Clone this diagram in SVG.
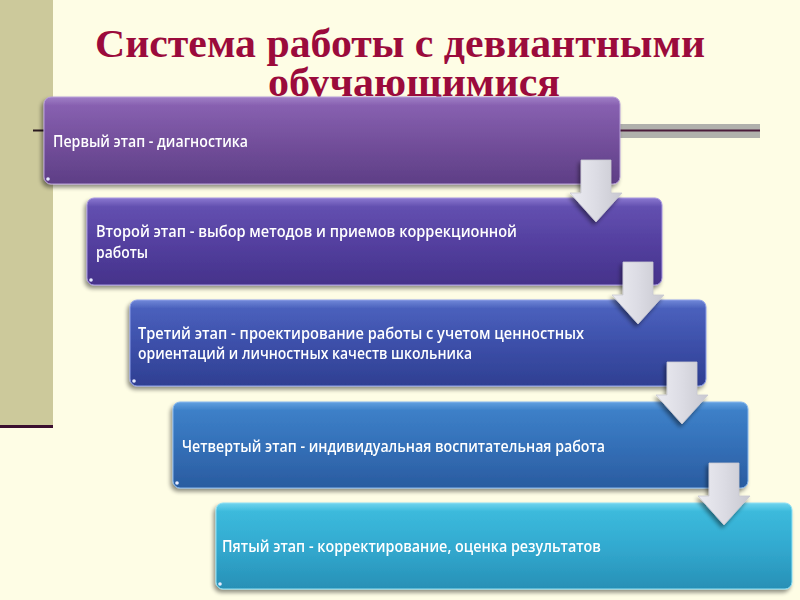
<svg xmlns="http://www.w3.org/2000/svg" width="800" height="600" viewBox="0 0 800 600">
<defs>
<style>
.title{font-family:"Liberation Serif","Times New Roman",serif;font-weight:bold;font-size:40px;fill:#9b0b3c}
.lbl{font-family:"Open Sans","Liberation Sans",Arial,sans-serif;font-weight:600;font-size:15.5px;fill:#ffffff}
.arrow{fill:url(#gArrow);stroke:#c8c8d0;stroke-width:0.8;filter:url(#sh)}
.dot{fill:#e8ecff}
</style>
<filter id="sh" x="-10%" y="-10%" width="125%" height="130%">
<feGaussianBlur in="SourceAlpha" stdDeviation="2"/>
<feOffset dx="-2" dy="3" result="b"/>
<feComponentTransfer><feFuncA type="linear" slope="0.45"/></feComponentTransfer>
<feMerge><feMergeNode/><feMergeNode in="SourceGraphic"/></feMerge>
</filter>
<linearGradient id="g1" x1="0" y1="0" x2="0" y2="1">
<stop offset="0" stop-color="#a07fc6"/><stop offset="0.1" stop-color="#8760b0"/><stop offset="0.5" stop-color="#74509c"/><stop offset="1" stop-color="#5e3e86"/>
</linearGradient>
<linearGradient id="g2" x1="0" y1="0" x2="0" y2="1">
<stop offset="0" stop-color="#8a78d0"/><stop offset="0.1" stop-color="#6350b0"/><stop offset="0.5" stop-color="#5440a0"/><stop offset="1" stop-color="#45328a"/>
</linearGradient>
<linearGradient id="g3" x1="0" y1="0" x2="0" y2="1">
<stop offset="0" stop-color="#7088d8"/><stop offset="0.1" stop-color="#4a60bc"/><stop offset="0.5" stop-color="#3d50aa"/><stop offset="1" stop-color="#2f3f92"/>
</linearGradient>
<linearGradient id="g4" x1="0" y1="0" x2="0" y2="1">
<stop offset="0" stop-color="#62a0e0"/><stop offset="0.1" stop-color="#3d80c8"/><stop offset="0.5" stop-color="#3470b8"/><stop offset="1" stop-color="#2a5ca0"/>
</linearGradient>
<linearGradient id="g5" x1="0" y1="0" x2="0" y2="1">
<stop offset="0" stop-color="#70d4ee"/><stop offset="0.1" stop-color="#3cbadc"/><stop offset="0.5" stop-color="#32aad0"/><stop offset="1" stop-color="#2890b6"/>
</linearGradient>
<linearGradient id="gArrow" x1="0" y1="0" x2="1" y2="0">
<stop offset="0" stop-color="#ececf2"/><stop offset="0.5" stop-color="#dcdce4"/><stop offset="1" stop-color="#c8c8d0"/>
</linearGradient>
</defs>
<rect x="0" y="0" width="800" height="600" fill="#fefde5"/>
<rect x="0" y="0" width="53" height="425" fill="#ccc99b"/>
<rect x="0" y="425" width="53" height="3" fill="#3b0f30"/>
<g id="rule">
<rect x="620" y="124" width="140" height="14" fill="#b0b0ac"/>
<rect x="620" y="129.5" width="140" height="2" fill="#4a1a3a"/>
<rect x="33" y="129.5" width="13" height="2" fill="#2a1a20"/>
</g>
<g id="title">
<text class="title" x="400" y="57" text-anchor="middle" textLength="610" lengthAdjust="spacingAndGlyphs">Система работы с девиантными</text>
<text class="title" x="414" y="96" text-anchor="middle" textLength="292" lengthAdjust="spacingAndGlyphs">обучающимися</text>
</g>
<g id="step1" filter="url(#sh)">
<rect x="44" y="97" width="576" height="87" rx="7" fill="url(#g1)" stroke="#b8a0d8" stroke-width="1"/>
<circle class="dot" cx="48" cy="179" r="1.8"/>
<text class="lbl" x="53" y="147" textLength="195" lengthAdjust="spacingAndGlyphs">Первый этап - диагностика</text>
</g>
<g id="step2" filter="url(#sh)">
<rect x="87" y="198" width="575" height="87" rx="7" fill="url(#g2)" stroke="#a898e0" stroke-width="1"/>
<circle class="dot" cx="91" cy="280" r="1.8"/>
<text class="lbl" x="96" y="237" textLength="421" lengthAdjust="spacingAndGlyphs">Второй этап - выбор методов и  приемов коррекционной</text>
<text class="lbl" x="96" y="258" textLength="52" lengthAdjust="spacingAndGlyphs">работы</text>
</g>
<g id="step3" filter="url(#sh)">
<rect x="130" y="300" width="576" height="86" rx="7" fill="url(#g3)" stroke="#90a0e8" stroke-width="1"/>
<circle class="dot" cx="134" cy="381" r="1.8"/>
<text class="lbl" x="138" y="339" textLength="446" lengthAdjust="spacingAndGlyphs">Третий этап - проектирование  работы с учетом ценностных</text>
<text class="lbl" x="138" y="359" textLength="334" lengthAdjust="spacingAndGlyphs">ориентаций и личностных качеств школьника</text>
</g>
<g id="step4" filter="url(#sh)">
<rect x="173" y="402" width="575" height="86" rx="7" fill="url(#g4)" stroke="#88b8ee" stroke-width="1"/>
<circle class="dot" cx="177" cy="483" r="1.8"/>
<text class="lbl" x="182" y="452" textLength="423" lengthAdjust="spacingAndGlyphs">Четвертый этап - индивидуальная воспитательная работа</text>
</g>
<g id="step5" filter="url(#sh)">
<rect x="216" y="503" width="576" height="86" rx="7" fill="url(#g5)" stroke="#90e0f4" stroke-width="1"/>
<circle class="dot" cx="220" cy="584" r="1.8"/>
<text class="lbl" x="222" y="552" textLength="379" lengthAdjust="spacingAndGlyphs">Пятый этап - корректирование, оценка результатов</text>
</g>
<g id="connectors">
<path class="arrow" transform="translate(596,160)" d="M-15,0 H15 V33 H26 L0,62 L-26,33 H-15 Z"/>
<path class="arrow" transform="translate(638,262)" d="M-15,0 H15 V33 H26 L0,62 L-26,33 H-15 Z"/>
<path class="arrow" transform="translate(682,362)" d="M-15,0 H15 V33 H26 L0,62 L-26,33 H-15 Z"/>
<path class="arrow" transform="translate(724,463)" d="M-15,0 H15 V33 H26 L0,62 L-26,33 H-15 Z"/>
</g>
</svg>
